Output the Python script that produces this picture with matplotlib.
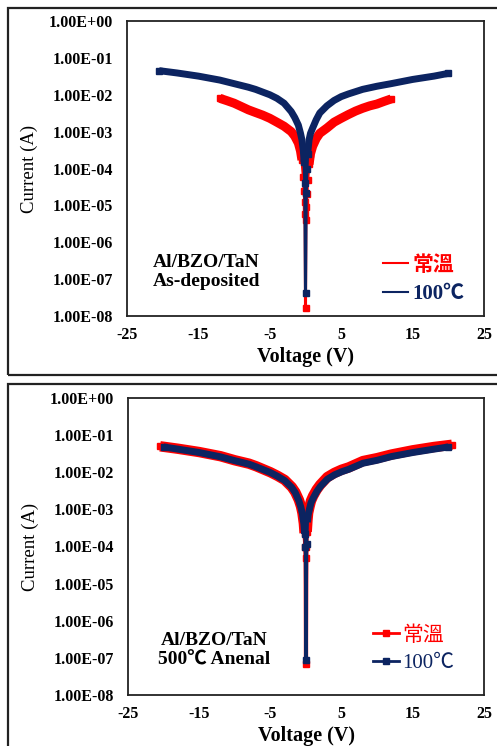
import matplotlib
matplotlib.use("Agg")
import matplotlib.pyplot as plt
from matplotlib.lines import Line2D
from matplotlib.patches import Rectangle
from matplotlib.ticker import FixedLocator, FuncFormatter

plt.rcParams["axes.unicode_minus"] = False

RED = "#ff0000"
NAVY = "#0c2461"
SERIF = ["Liberation Serif", "Noto Sans CJK TC", "DejaVu Serif"]
CJK = ["Liberation Serif", "Noto Sans CJK TC"]

labels = ["常溫", "100℃"]
x_ticks = [-25, -15, -5, 5, 15, 25]
y_ticks = [1e-8, 1e-7, 1e-6, 1e-5, 1e-4, 1e-3, 1e-2, 1e-1, 1e0]

# as-deposited, room temp
dep_rt_v = [-12, -11, -10, -9, -8, -7, -6, -5, -4, -3, -2, -1.5, -1, -0.7, -0.5, -0.3, -0.2, -0.1, -0.05, 0,
            0.05, 0.1, 0.2, 0.3, 0.5, 0.7, 1, 1.5, 2, 3, 4, 5, 6, 7, 8, 9, 10, 11, 12]
dep_rt_i = [8.0e-3, 6.9e-3, 5.9e-3, 4.8e-3, 3.9e-3, 3.3e-3, 2.8e-3, 2.3e-3, 1.8e-3, 1.4e-3, 1.0e-3, 7.5e-4, 4.9e-4,
            3.0e-4, 1.7e-4, 6e-5, 2.5e-5, 1.2e-5, 6e-6, 1.6e-8,
            4e-6, 9e-6, 2e-5, 5e-5, 1.3e-4, 2.5e-4, 4e-4, 6.5e-4, 9e-4, 1.25e-3, 1.8e-3, 2.3e-3, 2.9e-3, 3.6e-3,
            4.3e-3, 5.0e-3, 5.6e-3, 6.6e-3, 7.7e-3]
# as-deposited, 100C
dep_ht_v = [-20.5, -18, -15, -12, -10, -8, -7, -5, -4, -3, -2, -1.5, -1, -0.7, -0.5, -0.3, -0.2, -0.1, 0,
            0.1, 0.2, 0.3, 0.5, 0.7, 1, 1.5, 2, 3, 4, 5, 6, 8, 10, 12, 15, 18, 20]
dep_ht_i = [4.5e-2, 3.9e-2, 3.2e-2, 2.5e-2, 2.0e-2, 1.6e-2, 1.4e-2, 1.0e-2, 8.0e-3, 5.9e-3, 3.5e-3, 2.4e-3, 1.5e-3,
            9e-4, 6e-4, 3e-4, 1.5e-4, 4e-5, 4.2e-8,
            2.1e-5, 1e-4, 2.5e-4, 6e-4, 9e-4, 1.25e-3, 2.1e-3, 3.2e-3, 5.0e-3, 7.0e-3, 8.9e-3, 1.05e-2, 1.4e-2,
            1.7e-2, 2.0e-2, 2.6e-2, 3.2e-2, 3.8e-2]
# 500C anneal, room temp
ann_rt_v = [-20.5, -18, -15, -12, -10, -8, -7, -5, -4, -3, -2, -1.5, -1, -0.7, -0.5, -0.3, -0.2, -0.1, -0.05, 0,
            0.05, 0.1, 0.2, 0.3, 0.5, 0.7, 1, 1.5, 2, 3, 4, 5, 6, 8, 10, 12, 15, 18, 20.5]
ann_rt_i = [5.0e-2, 4.3e-2, 3.5e-2, 2.7e-2, 2.1e-2, 1.7e-2, 1.45e-2, 1.0e-2, 8.0e-3, 6.2e-3, 4.0e-3, 2.9e-3, 1.8e-3,
            1.2e-3, 8e-4, 4.2e-4, 2.3e-4, 1e-4, 5e-5, 7e-8,
            1e-4, 2.5e-4, 5e-4, 8e-4, 1.2e-3, 1.7e-3, 2.3e-3, 3.4e-3, 4.6e-3, 7.4e-3, 9.6e-3, 1.17e-2, 1.35e-2,
            2.0e-2, 2.4e-2, 3.0e-2, 3.9e-2, 4.8e-2, 5.5e-2]
# 500C anneal, 100C
ann_ht_v = [-20, -18, -15, -12, -10, -8, -7, -5, -4, -3, -2, -1.5, -1, -0.7, -0.5, -0.3, -0.2, -0.1, 0,
            0.1, 0.2, 0.3, 0.5, 0.7, 1, 1.5, 2, 3, 4, 5, 6, 8, 10, 12, 15, 18, 20]
ann_ht_i = [4.8e-2, 4.2e-2, 3.4e-2, 2.6e-2, 2.05e-2, 1.65e-2, 1.4e-2, 9.8e-3, 7.8e-3, 6.0e-3, 3.9e-3, 2.8e-3, 1.7e-3,
            1.1e-3, 7.5e-4, 4e-4, 2.2e-4, 1e-4, 8.7e-8,
            1.2e-4, 4.5e-4, 7e-4, 1.05e-3, 1.5e-3, 2.0e-3, 3.0e-3, 4.1e-3, 6.5e-3, 8.5e-3, 1.03e-2, 1.2e-2,
            1.75e-2, 2.1e-2, 2.65e-2, 3.4e-2, 4.2e-2, 4.8e-2]


def drawSeries(ax, v, i, color, band, thin, ms):
    # markers only show up on the steep dip near 0 V
    marks = [b < 3e-4 or k in (0, len(i) - 1) for k, b in enumerate(i)]
    ax.plot(v, i, color=color, lw=thin, marker="s", ms=ms, mec=color, mfc=color, markevery=marks)
    left = [(a, b) for a, b in zip(v, i) if b > 1.2e-4 and a < 0]
    right = [(a, b) for a, b in zip(v, i) if b > 1.2e-4 and a > 0]
    for part in (left, right):
        ax.plot([p[0] for p in part], [p[1] for p in part], color=color, lw=band,
                solid_capstyle="butt", solid_joinstyle="round")


def setupAxes(ax):
    ax.set_yscale("log")
    ax.set_ylim(1e-8, 1e0)
    ax.set_xlim(-25, 25)
    ax.xaxis.set_major_locator(FixedLocator(x_ticks))
    ax.yaxis.set_major_locator(FixedLocator(y_ticks))
    ax.yaxis.set_minor_locator(FixedLocator([]))
    ax.yaxis.set_major_formatter(FuncFormatter(lambda val, pos: f"{val:.2E}"))
    ax.tick_params(axis="both", length=0)
    ax.tick_params(axis="y", pad=10)
    ax.tick_params(axis="x", pad=8)
    for lab in ax.get_xticklabels() + ax.get_yticklabels():
        lab.set_fontfamily(SERIF)
        lab.set_fontweight("bold")
        lab.set_fontsize(11.5)
    for sp in ax.spines.values():
        sp.set_linewidth(1.3)
        sp.set_color("#222222")
    ax.set_xlabel("Voltage (V)", fontfamily=SERIF, fontweight="bold", fontsize=14.5, labelpad=3)
    ax.set_ylabel("Current (A)", fontfamily=SERIF, fontsize=13.5, labelpad=8)


fig = plt.figure(figsize=(4.97, 7.46), dpi=100)

fig.add_artist(Rectangle((8 / 497, 1 - 375 / 746), 1.0, 367 / 746, transform=fig.transFigure,
                         fill=False, lw=1.6, ec="#222222"))
fig.add_artist(Rectangle((8 / 497, -0.05), 1.0, 1 - 384 / 746 + 0.05, transform=fig.transFigure,
                         fill=False, lw=1.6, ec="#222222"))

ax1 = fig.add_axes([127 / 497, 1 - 316 / 746, 357 / 497, 295 / 746])
drawSeries(ax1, dep_rt_v, dep_rt_i, RED, 6.5, 2.2, 4.5)
drawSeries(ax1, dep_ht_v, dep_ht_i, NAVY, 5, 2.2, 4.5)
setupAxes(ax1)
ax1.text(0.073, 0.149, "Al/BZO/TaN\nAs-deposited", transform=ax1.transAxes, ha="left", va="center",
         fontfamily=SERIF, fontweight="bold", fontsize=14, linespacing=1.2)
h1 = [Line2D([], [], color=RED, lw=1.5), Line2D([], [], color=NAVY, lw=1.5)]
ax1.legend(h1, labels, loc="upper left", bbox_to_anchor=(0.717, 0.205), frameon=False,
           borderpad=0, borderaxespad=0, handlelength=1.2, handletextpad=0.2, labelspacing=0.42,
           labelcolor="linecolor", prop={"family": CJK, "size": 15, "weight": "bold"})

ax2 = fig.add_axes([128 / 497, 1 - 695 / 746, 356 / 497, 297 / 746])
drawSeries(ax2, ann_rt_v, ann_rt_i, RED, 7.5, 3, 5)
drawSeries(ax2, ann_ht_v, ann_ht_i, NAVY, 5, 2.2, 4)
setupAxes(ax2)
ax2.text(0.242, 0.152, "Al/BZO/TaN\n500℃ Anenal", transform=ax2.transAxes, ha="center", va="center",
         multialignment="center", fontfamily=SERIF, fontweight="bold", fontsize=14, linespacing=1.2)
h2 = [Line2D([], [], color=RED, lw=2, marker="s", ms=4), Line2D([], [], color=NAVY, lw=2, marker="s", ms=4)]
ax2.legend(h2, labels, loc="upper left", bbox_to_anchor=(0.688, 0.232), frameon=False,
           borderpad=0, borderaxespad=0, handlelength=1.25, handletextpad=0.15, labelspacing=0.38,
           labelcolor="linecolor", prop={"family": CJK, "size": 15})

fig.savefig("out.png", dpi=100)
